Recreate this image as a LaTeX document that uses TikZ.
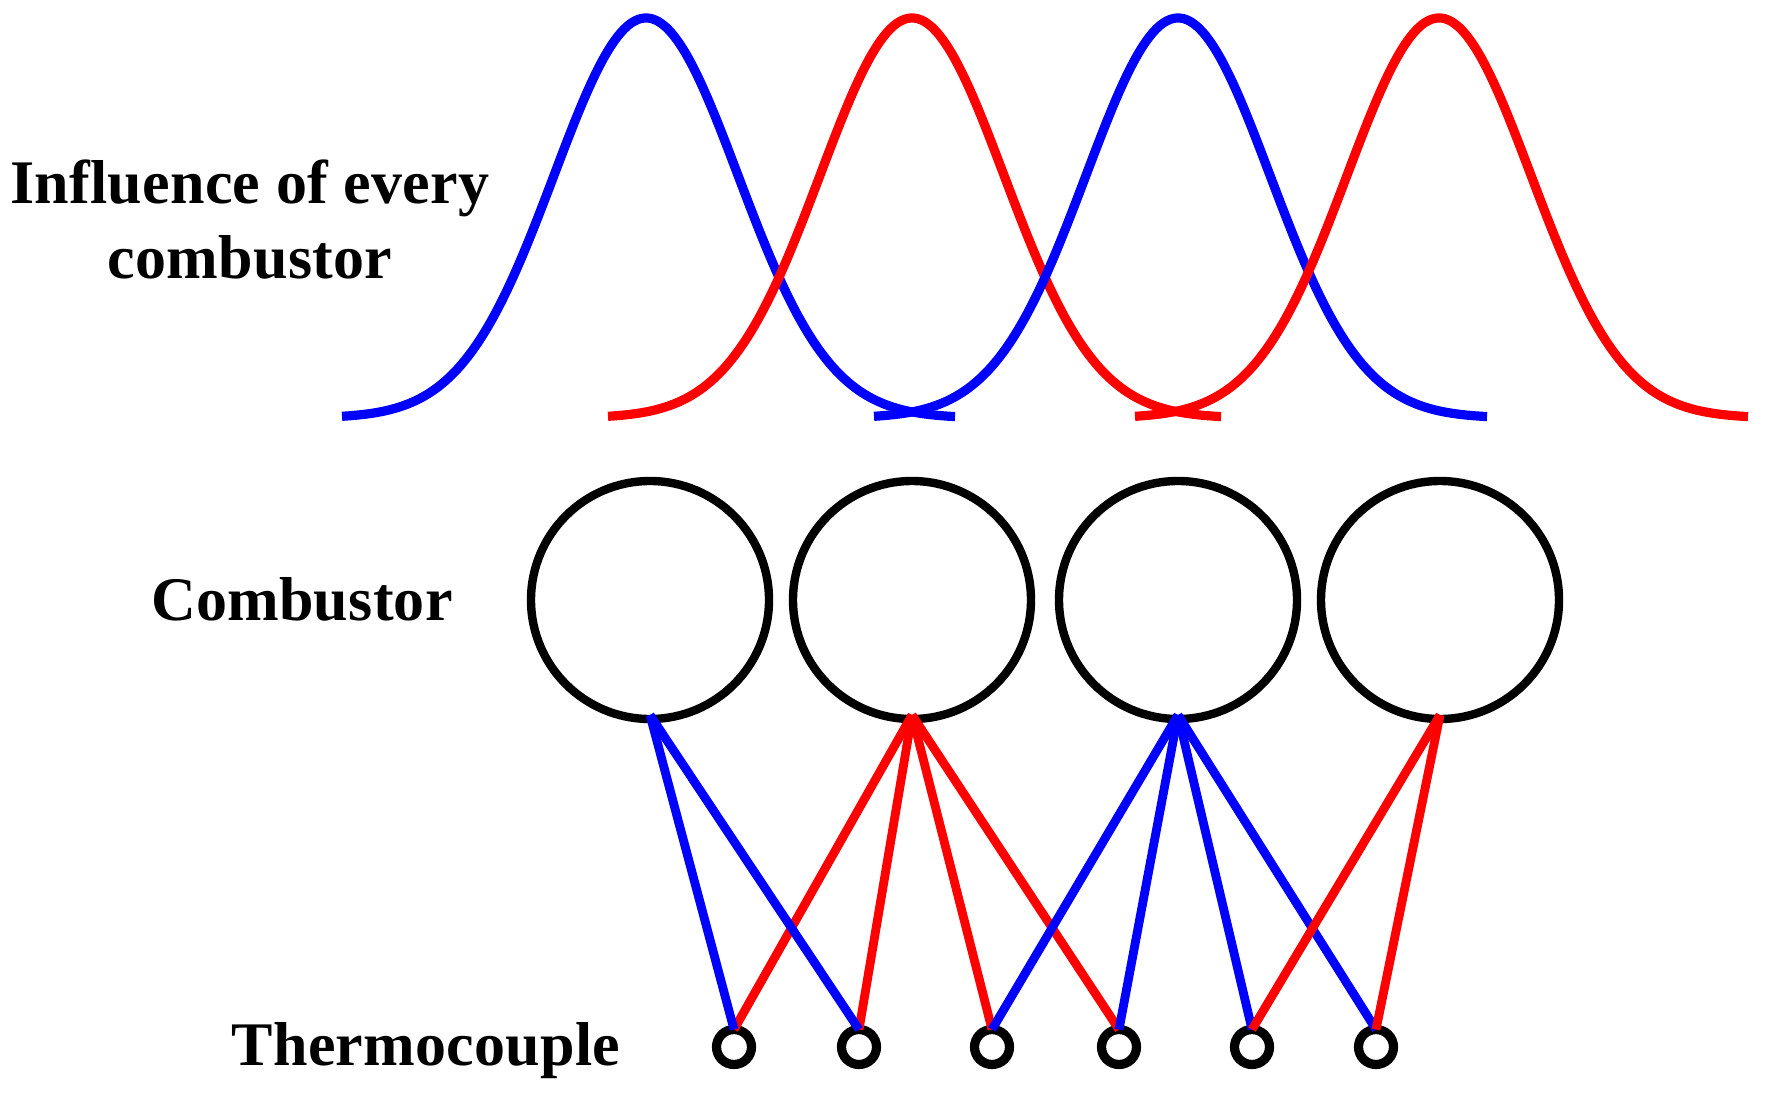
\documentclass[tikz,border=0pt]{standalone}
\usepackage{fontspec}
\newfontfamily\labelfont{Liberation Serif Bold}[LetterSpace=0.4]
\definecolor{cblue}{RGB}{0,0,255}
\definecolor{cred}{RGB}{255,0,0}
\tikzset{
  combustor/.style={circle,draw=black,line width=4.2pt,minimum size=238*0.5pt,inner sep=0pt,outer sep=0pt},
  thermo/.style={circle,draw=black,line width=4.6pt,minimum size=35*0.5pt,inner sep=0pt,outer sep=0pt},
  bluewire/.style={draw=cblue,line width=4.4pt},
  redwire/.style={draw=cred,line width=4.4pt},
  labeltext/.style={font=\labelfont\fontsize{31}{31}\selectfont,anchor=base,inner sep=0pt},
}
\begin{document}
\begin{tikzpicture}[x=0.5pt,y=-0.5pt]
\useasboundingbox (0,0) rectangle (1776,1102);
\node[labeltext] (l1) at (250,203) {Influence of every};
\node[labeltext] (l2) at (250,278) {combustor};
\node[labeltext] (l3) at (302,620) {Combustor};
\node[labeltext] (l4) at (426,1065) {Thermocouple};
\foreach \n/\x in {1/650,2/912,3/1178,4/1440}{\node[combustor] (c\n) at (\x,600) {};}
\foreach \n/\x in {1/734,2/859,3/992,4/1119,5/1252,6/1376}{\node[thermo] (t\n) at (\x,1047) {};}
\foreach \p/\c in {646/cblue,912/cred,1178/cblue,1439/cred}{
  \draw[color=\c,line width=4.6pt,smooth] plot[domain=-304:309,samples=90,variable=\u] ({\p+\u},{418-400*exp(-(\u/92)*(\u/92)/2)});
}
\foreach \a/\b in {c2/t1,c2/t2,c2/t3,c2/t4}{\draw[redwire] ([yshift=2pt]\a.south) -- (\b.north);}
\foreach \a/\b in {c3/t3,c3/t4,c3/t5,c3/t6}{\draw[bluewire] ([yshift=2pt]\a.south) -- (\b.north);}
\foreach \a/\b in {c4/t5,c4/t6}{\draw[redwire] ([yshift=2pt]\a.south) -- (\b.north);}
\foreach \a/\b in {c1/t1,c1/t2}{\draw[bluewire] ([yshift=2pt]\a.south) -- (\b.north);}
\end{tikzpicture}
\end{document}
